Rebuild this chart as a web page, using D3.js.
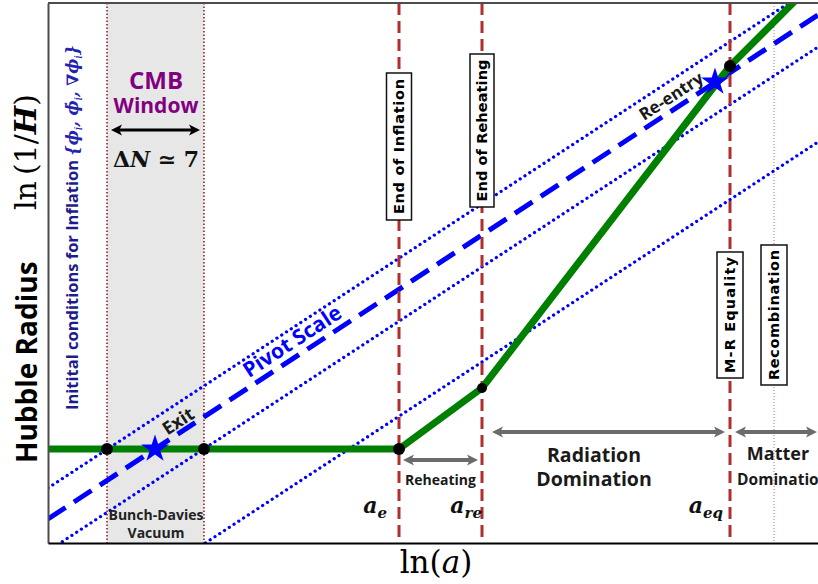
<!DOCTYPE html>
<html><head><meta charset="utf-8">
<script src="https://cdn.jsdelivr.net/npm/d3@7"></script>
<style>body{margin:0;background:#fff}</style>
</head><body>
<svg id="c" width="818" height="584"></svg>
<script>
// ---------------- data (ln a , ln 1/H in arbitrary units) ----------------
const hubbleRadius = [[0, 9.4], [35.1, 9.4], [43.4, 15.5], [68.2, 47.7], [76, 55.5]];
const transitionPoints = [[5.9, 9.4], [15.6, 9.4], [35.1, 9.4], [43.4, 15.5], [68.2, 47.7]];
const crossingStars = [[10.7, 9.4], [66.7, 46.1]];
const pivotScale = [[0, 2.4], [77, 52.8]];
const otherScales = [
  [[0, 5.5], [77, 55.9]],
  [[0, -0.8], [77, 49.6]],
  [[0, -10.3], [77, 40.1]]
];
const cmbWindow = [5.9, 15.6];
const epochLines = [
  {label: "End of Inflation", x: 35.1},
  {label: "End of Reheating", x: 43.4},
  {label: "M-R Equality", x: 68.2}
];
const recombination = {label: "Recombination", x: 72.6};
const scaleFactorLabels = [
  {base: "a", sub: "e", x: 35.1},
  {base: "a", sub: "re", x: 43.4},
  {base: "a", sub: "eq", x: 68.2}
];
const eras = [
  {lines: ["Reheating"], from: 35.1, to: 43.4},
  {lines: ["Radiation", "Domination"], from: 43.4, to: 68.2},
  {lines: ["Matter", "Domination"], from: 68.2, to: 77}
];

// ---------------- layout ----------------
const svg = d3.select('#c');
const x = d3.scaleLinear().domain([0, 77]).range([48, 818]);
const y = d3.scaleLinear().domain([0, 54]).range([543, 3]);
const SANS = "'Open Sans', sans-serif", SERIF = "'DejaVu Serif', serif", BOXF = "'DejaVu Sans', sans-serif";
const RED = '#b02e2e', BLUE = '#0000ff', GREEN = '#008000', GREY = '#6b6b6b', INK = '#1a1a1a';

svg.append('defs').append('clipPath').attr('id', 'plot')
  .append('rect').attr('x', x(0)).attr('y', y(54)).attr('width', x(77) - x(0)).attr('height', y(0) - y(54));
const plot = svg.append('g').attr('clip-path', 'url(#plot)');

// CMB window shading and edges
plot.append('rect').attr('x', x(cmbWindow[0])).attr('y', y(54))
  .attr('width', x(cmbWindow[1]) - x(cmbWindow[0])).attr('height', y(0) - y(54)).attr('fill', '#e7e7e7');
cmbWindow.forEach(v => plot.append('line').attr('x1', x(v)).attr('x2', x(v)).attr('y1', y(54)).attr('y2', y(0))
  .attr('stroke', '#8b1a1a').attr('stroke-width', 1.5).attr('stroke-dasharray', '1.5 2'));
// recombination thin dotted
plot.append('line').attr('x1', x(recombination.x)).attr('x2', x(recombination.x)).attr('y1', y(54)).attr('y2', y(0))
  .attr('stroke', '#c46a6a').attr('stroke-width', 1).attr('stroke-dasharray', '1 2');

const line = d3.line().x(d => x(d[0])).y(d => y(d[1]));
otherScales.forEach(s => plot.append('path').attr('d', line(s)).attr('fill', 'none')
  .attr('stroke', BLUE).attr('stroke-width', 3.2).attr('stroke-dasharray', '0.1 5.6').attr('stroke-linecap', 'round'));
plot.append('path').attr('d', line(pivotScale)).attr('fill', 'none')
  .attr('stroke', BLUE).attr('stroke-width', 5).attr('stroke-dasharray', '21 10');

epochLines.forEach(e => plot.append('line').attr('x1', x(e.x)).attr('x2', x(e.x)).attr('y1', y(54)).attr('y2', y(0))
  .attr('stroke', RED).attr('stroke-width', 3).attr('stroke-dasharray', '12 6'));

plot.append('path').attr('d', line(hubbleRadius)).attr('fill', 'none')
  .attr('stroke', GREEN).attr('stroke-width', 7).attr('stroke-linejoin', 'round');

svg.selectAll('circle.pt').data(transitionPoints).join('circle').attr('class', 'pt')
  .attr('cx', d => x(d[0])).attr('cy', d => y(d[1])).attr('r', (d, i) => i === 3 ? 5 : 6).attr('fill', '#000');

const star = d3.symbol(d3.symbolStar, 240)();
svg.selectAll('path.star').data(crossingStars).join('path').attr('class', 'star')
  .attr('d', star).attr('transform', d => `translate(${x(d[0])},${y(d[1])})`).attr('fill', BLUE);

// axes frame
svg.append('line').attr('x1', x(0)).attr('x2', x(77)).attr('y1', y(54)).attr('y2', y(54)).attr('stroke', '#4d4d4d').attr('stroke-width', 2);
svg.append('g').attr('transform', `translate(${x(0)},0)`).call(d3.axisLeft(y).tickValues([]).tickSizeOuter(0))
  .select('.domain').attr('stroke', '#4d4d4d').attr('stroke-width', 2);
svg.append('g').attr('transform', `translate(0,${y(0)})`).call(d3.axisBottom(x).tickValues([]).tickSizeOuter(0))
  .select('.domain').attr('stroke', '#000').attr('stroke-width', 2);

// labelled boxes on epoch lines
const boxLayout = [
  {cy: 146.5, w: 25, h: 147, len: 135},
  {cy: 130.5, w: 24, h: 153, len: 142},
  {cy: 315, w: 26, h: 126, len: 116},
  {cy: 315, w: 26, h: 140, len: 130}
];
[...epochLines, recombination].forEach((e, i) => {
  const L = boxLayout[i];
  const g = svg.append('g').attr('transform', `translate(${x(e.x)},${L.cy}) rotate(-90)`);
  g.append('rect').attr('x', -L.h / 2).attr('y', -L.w / 2).attr('width', L.h).attr('height', L.w)
    .attr('fill', '#fff').attr('stroke', '#111').attr('stroke-width', 1.5);
  g.append('text').attr('text-anchor', 'middle').attr('dy', '0.36em').attr('font-family', BOXF)
    .attr('font-weight', 'bold').attr('font-size', 14.5).attr('fill', '#000')
    .attr('textLength', L.len).attr('lengthAdjust', 'spacing').text(e.label);
});

// double arrows
function dblArrow(x1, x2, yy, color, w, hl, hw) {
  svg.append('line').attr('x1', x1 + hl * 0.6).attr('x2', x2 - hl * 0.6).attr('y1', yy).attr('y2', yy)
    .attr('stroke', color).attr('stroke-width', w);
  svg.append('path').attr('d', `M${x1},${yy} L${x1 + hl},${yy - hw} L${x1 + hl * 0.75},${yy} L${x1 + hl},${yy + hw} Z`).attr('fill', color);
  svg.append('path').attr('d', `M${x2},${yy} L${x2 - hl},${yy - hw} L${x2 - hl * 0.75},${yy} L${x2 - hl},${yy + hw} Z`).attr('fill', color);
}
const eraArrow = [
  {y: 460, l: 4, r: -4},
  {y: 432, l: 10, r: -5},
  {y: 432, l: 5, r: -1}
];
const eraText = [
  {cx: 440.5, base: [485], size: [14]},
  {cx: 594, base: [462, 486], size: [19.5, 19.5]},
  {cx: 778, base: [460, 485], size: [18, 15.5], dx: [0, 5]}
];
eras.forEach((e, i) => {
  const A = eraArrow[i];
  dblArrow(x(e.from) + A.l, Math.min(x(e.to), 818) + A.r, A.y, GREY, 4, 11, 5.5);
  const T = eraText[i];
  e.lines.forEach((t, j) => svg.append('text').attr('x', T.cx + (T.dx ? T.dx[j] : 0)).attr('y', T.base[j])
    .attr('text-anchor', 'middle').attr('font-family', SANS).attr('font-weight', 'bold')
    .attr('font-size', T.size[j]).attr('fill', INK).text(t));
});

// scale factor labels
const sfOffset = [-12, 0, -7];
scaleFactorLabels.forEach((s, i) => {
  const t = svg.append('text').attr('x', x(s.x) + sfOffset[i]).attr('y', 513).attr('text-anchor', 'end')
    .attr('font-family', SERIF).attr('font-style', 'italic').attr('font-weight', 'bold').attr('fill', '#111');
  t.append('tspan').attr('font-size', 22).text(s.base);
  t.append('tspan').attr('font-size', 15).attr('dy', 5).text(s.sub);
});

// CMB window labels
svg.append('text').attr('x', 156).attr('y', 89).attr('text-anchor', 'middle').attr('font-family', SANS)
  .attr('font-weight', 'bold').attr('font-size', 24).attr('fill', '#800080').text('CMB');
svg.append('text').attr('x', 156).attr('y', 113).attr('text-anchor', 'middle').attr('font-family', SANS)
  .attr('font-weight', 'bold').attr('font-size', 21).attr('fill', '#800080').text('Window');
dblArrow(x(cmbWindow[0]) + 4, x(cmbWindow[1]) - 4, 130, '#000', 3, 11, 5.5);
{
  const t = svg.append('text').attr('x', 156).attr('y', 167).attr('text-anchor', 'middle')
    .attr('font-family', SERIF).attr('font-weight', 'bold').attr('font-size', 22).attr('fill', '#111');
  t.append('tspan').text('Δ');
  t.append('tspan').attr('font-style', 'italic').text('N');
  t.append('tspan').text(' ≃ 7');
}
['Bunch-Davies', 'Vacuum'].forEach((s, j) => svg.append('text').attr('x', 156).attr('y', 520 + j * 18)
  .attr('text-anchor', 'middle').attr('font-family', SANS).attr('font-weight', 'bold').attr('font-size', 14)
  .attr('fill', '#222').text(s));

// slanted labels along the pivot scale
const ang = -Math.atan((y(pivotScale[0][1]) - y(pivotScale[1][1])) / (x(pivotScale[1][0]) - x(pivotScale[0][0]))) * 180 / Math.PI;
[
  {t: 'Exit', cx: 178, cy: 421, size: 18, fill: '#1a1a1a'},
  {t: 'Pivot Scale', cx: 292, cy: 341, size: 21, fill: BLUE},
  {t: 'Re-entry', cx: 671, cy: 96, size: 17, fill: '#1a1a1a'}
].forEach(d => svg.append('text').attr('transform', `translate(${d.cx},${d.cy}) rotate(${ang})`)
  .attr('text-anchor', 'middle').attr('dy', '0.36em').attr('font-family', SANS).attr('font-weight', 'bold')
  .attr('font-size', d.size).attr('fill', d.fill).text(d.t));

// vertical blue caption
{
  const t = svg.append('text').attr('transform', 'translate(78,410) rotate(-90)').attr('fill', '#1c1c8c');
  t.append('tspan').attr('font-family', SANS).attr('font-weight', 'bold').attr('font-size', 16.5)
    .text('Initital conditions for Inflation ');
  const seq = [['{ϕ', 'i'], [', ϕ̇', 'i'], [', ∇ϕ', 'i'], ['}', null]];
  let shifted = false;
  seq.forEach(([s, sub]) => {
    t.append('tspan').attr('font-family', SERIF).attr('font-style', 'italic').attr('font-weight', 'bold')
      .attr('font-size', 16).attr('fill', '#2323b0').attr('dy', shifted ? -4 : 0).text(s);
    shifted = false;
    if (sub) {
      t.append('tspan').attr('font-family', SERIF).attr('font-style', 'italic').attr('font-size', 11)
        .attr('fill', '#2323b0').attr('dy', 4).text(sub);
      shifted = true;
    }
  });
}

// axis titles
svg.append('text').attr('transform', 'translate(37,463) rotate(-90)').attr('font-family', SANS)
  .attr('font-weight', 'bold').attr('font-size', 28).attr('fill', '#000').text('Hubble Radius');
{
  const t = svg.append('text').attr('transform', 'translate(36,210) rotate(-90)').attr('font-family', SERIF)
    .attr('font-size', 30).attr('fill', '#000');
  t.append('tspan').text('ln\u2009(1/');
  t.append('tspan').attr('font-style', 'italic').attr('font-weight', 'bold').text('H');
  t.append('tspan').text(')');
}
{
  const t = svg.append('text').attr('x', 436).attr('y', 573).attr('text-anchor', 'middle').attr('font-family', SERIF)
    .attr('font-size', 31).attr('fill', '#000');
  t.append('tspan').text('ln(');
  t.append('tspan').attr('font-style', 'italic').text('a');
  t.append('tspan').text(')');
}
</script>
</body></html>
